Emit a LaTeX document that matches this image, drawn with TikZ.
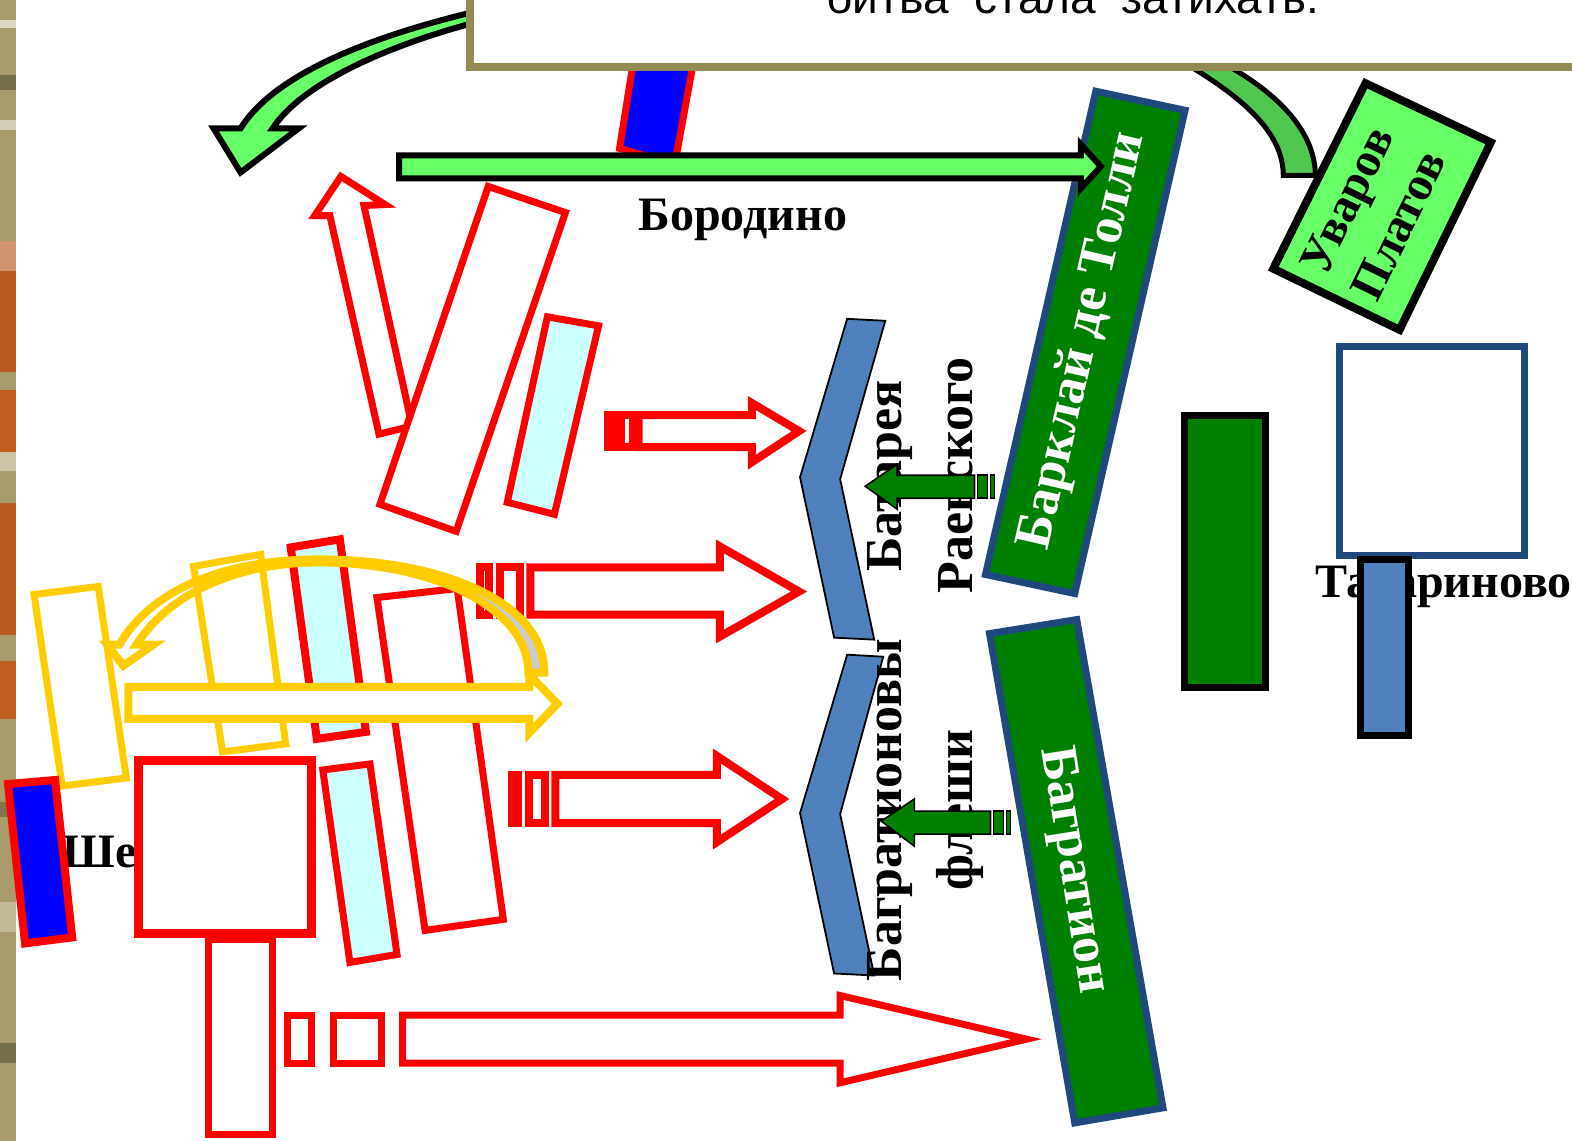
\documentclass[tikz,border=0pt]{standalone}
\usepackage{fontspec}
\setmainfont{Liberation Serif}
\newfontfamily\boxfont{Liberation Sans}
\definecolor{hgreen}{HTML}{66FF66}
\definecolor{hcurve}{HTML}{50C850}
\definecolor{darkgreen}{HTML}{008000}
\definecolor{navyline}{HTML}{1F497D}
\definecolor{flankblue}{HTML}{4F81BD}
\definecolor{paleblue}{HTML}{CCFFFF}
\definecolor{goldline}{HTML}{FFCC00}
\definecolor{boxline}{HTML}{948A54}
\definecolor{khaki}{HTML}{A89C6C}
\definecolor{rust}{HTML}{B85A22}
\tikzset{
 redbox/.style={draw=red,line width=7pt,fill=white,miter limit=10},
 redarrow/.style={redbox,line width=8pt},
 goldbox/.style={draw=goldline,line width=7pt,fill=white,miter limit=10},
 greenarrow/.style={draw=black,line width=6pt,fill=hgreen,miter limit=10},
 darkarrow/.style={draw=black,line width=1.6pt,fill=darkgreen},
 armybar/.style={draw=navyline,line width=7pt,fill=darkgreen},
 flank/.style={draw=black,line width=1.8pt,fill=flankblue},
 lbl/.style={font=\fontsize{48}{48}\selectfont\bfseries,inner sep=0pt},
 sidelbl/.style={font=\fontsize{52}{52}\selectfont\bfseries,inner sep=0pt},
 whitelbl/.style={sidelbl,text=white}
}
\begin{document}
\begin{tikzpicture}[x=1.0026pt,y=-1.0026pt]
\clip (0,0) rectangle (1568,1138);
\fill[khaki] (0,0) rectangle (16,1138);
\foreach \ya/\yb/\col in {240/371/rust,389/451/rust!90!orange,502/633/rust,659/717/rust!90!orange,20/28/white!60!khaki,75/90/black!30!khaki,120/130/white!50!khaki,240/270/white!35!rust,451/470/white!40!khaki,800/815/black!25!khaki,900/930/white!30!khaki,1040/1060/black!30!khaki}
\fill[\col] (0,\ya) rectangle (16,\yb);
\draw[redbox,fill=blue] (632,60)--(692,60)--(673,164)--(618,148)--cycle;
\draw[greenarrow] (468,13) .. controls (350,42) and (270,80) .. (240,128)--(213,128)--(240,172)--(298,128)--(272,128) .. controls (300,85) and (380,48) .. (468,24)--cycle;
\draw[greenarrow,line width=5pt,fill=hcurve] (1180,62) .. controls (1245,100) and (1280,135) .. (1280,175)--(1312,175) .. controls (1312,135) and (1280,95) .. (1218,62)--cycle;
\node[lbl] (borodino) at (741,219) {Бородино};
\draw[redbox] (329,215)--(314,215)--(340,176)--(384,204)--(363,205)--(411,425)--(378,433)--cycle;
\draw[redbox] (487,186)--(564,212)--(455,530)--(379,503)--cycle;
\draw[redbox,fill=paleblue] (546,316)--(597,325)--(553,513)--(506,501)--cycle;
\draw[redarrow,fill=red] (606,414) rectangle (620,446);
\draw[redarrow] (619,414) rectangle (631,446);
\draw[redarrow] (637,414)--(750,414)--(750,402)--(797,430)--(750,461)--(750,446)--(637,446)--cycle;
\draw[goldbox] (34,593)--(98,585)--(126,776)--(62,784)--cycle;
\draw[goldbox] (193,565)--(260,553)--(285,742)--(222,750)--cycle;
\draw[redbox,line width=8pt,fill=paleblue] (290,546)--(339,538)--(365,730)--(316,737)--cycle;
\draw[redbox] (376,596)--(456,587)--(502,917)--(424,928)--cycle;
\draw[redarrow] (479,566) rectangle (488,613);
\draw[redarrow] (499,566) rectangle (519,613);
\draw[redarrow] (529,566)--(718,566)--(718,545)--(797,590)--(718,635)--(718,613)--(529,613)--cycle;
\draw[redbox,fill=paleblue] (322,768)--(369,762)--(396,952)--(349,960)--cycle;
\draw[redarrow] (511,773) rectangle (517,821);
\draw[redarrow] (528,773) rectangle (544,821);
\draw[redarrow] (554,773)--(715,773)--(715,754)--(780,797)--(715,840)--(715,821)--(554,821)--cycle;
\node[lbl,anchor=west] (shev) at (62,855) {Шевардино};
\draw[redbox,line width=8pt,fill=blue] (8,782)--(55,778)--(72,935)--(25,941)--cycle;
\draw[redbox] (207.5,937) rectangle (271.5,1132);
\draw[redbox,line width=9pt] (138.5,758.5) rectangle (310.5,931.5);
\draw[redbox] (287,1012.5) rectangle (311,1060.5);
\draw[redbox] (332.5,1012.5) rectangle (380.5,1060.5);
\draw[redbox] (401.5,1012.5)--(838,1012.5)--(838,993)--(1024,1036.5)--(838,1080)--(838,1060.5)--(401.5,1060.5)--cycle;
\draw[goldbox,line width=8pt] (128,685)--(528,685)--(528,673)--(556,702)--(528,731)--(528,717)--(128,717)--cycle;
\fill[black!20] (543,671) .. controls (543,600) and (440,558) .. (318,558)--(318,561) .. controls (430,561) and (527,605) .. (527,671)--cycle;
\draw[draw=goldline,line width=8pt,miter limit=10] (543,671) .. controls (543,600) and (440,558) .. (318,558) .. controls (220,558) and (150,590) .. (119,643)--(107,643)--(123,664)--(153,643)--(136,643) .. controls (170,590) and (240,561) .. (318,561) .. controls (430,561) and (527,605) .. (527,671)--cycle;
\draw[flank] (845,318)--(883,320)--(838,478)--(872,638)--(832,636)--(798,476)--cycle;
\draw[flank] (845,653)--(881,655)--(838,812)--(872,973)--(832,971)--(798,811)--cycle;
\node[sidelbl,rotate=90] (battery) at (888,475) {Батарея};
\node[sidelbl,rotate=90] (raevsky) at (953,474) {Раевского};
\node[sidelbl,rotate=90] (flechesa) at (888,808) {Багратионовы};
\node[sidelbl,rotate=90] (flechesb) at (958,808) {флеши};
\draw[darkarrow] (863,485)--(895,463)--(895,474)--(972,474)--(972,497)--(895,497)--(895,508)--cycle;
\draw[darkarrow] (975,474) rectangle (985,497);
\draw[darkarrow] (988,474) rectangle (992,497);
\draw[darkarrow] (879,819)--(912,797)--(912,809)--(988,809)--(988,832)--(912,832)--(912,844)--cycle;
\draw[darkarrow] (991,809) rectangle (1001,832);
\draw[darkarrow] (1004,809) rectangle (1008,832);
\draw[armybar] (1093,91)--(1182,110)--(1072,592)--(983,573)--cycle;
\node[whitelbl,rotate=77] (barclay) at (1081,340) {Барклай де Толли};
\draw[armybar] (987,632)--(1074,618)--(1160,1105)--(1072,1120)--cycle;
\node[whitelbl,rotate=-81] (bagration) at (1070,868) {Багратион};
\draw[greenarrow] (398,155)--(1078,155)--(1078,144)--(1098,166)--(1078,188)--(1078,178)--(398,178)--cycle;
\draw[greenarrow,line width=8pt] (1362,83)--(1487,142)--(1396,329)--(1270,268)--cycle;
\node[lbl,rotate=64,align=center,font=\fontsize{48}{58}\selectfont\bfseries] (reserve) at (1369,212) {Уваров\\Платов};
\draw[line width=7pt,draw=black,fill=darkgreen] (1181,414) rectangle (1262,686);
\node[lbl,anchor=west] (tatar) at (1312,585) {Татариново};
\draw[draw=navyline,line width=7pt,fill=white] (1336,346) rectangle (1521,554);
\draw[line width=7pt,draw=black,fill=flankblue] (1357,558) rectangle (1405,734);
\draw[draw=boxline,line width=8pt,fill=white] (468.5,-20) rectangle (1590,66.5);
\node[font=\boxfont\fontsize{46}{46}\selectfont,inner sep=0pt,anchor=base] (note) at (1070,13) {битва\ \ стала\ \ затихать.};
\end{tikzpicture}
\end{document}
